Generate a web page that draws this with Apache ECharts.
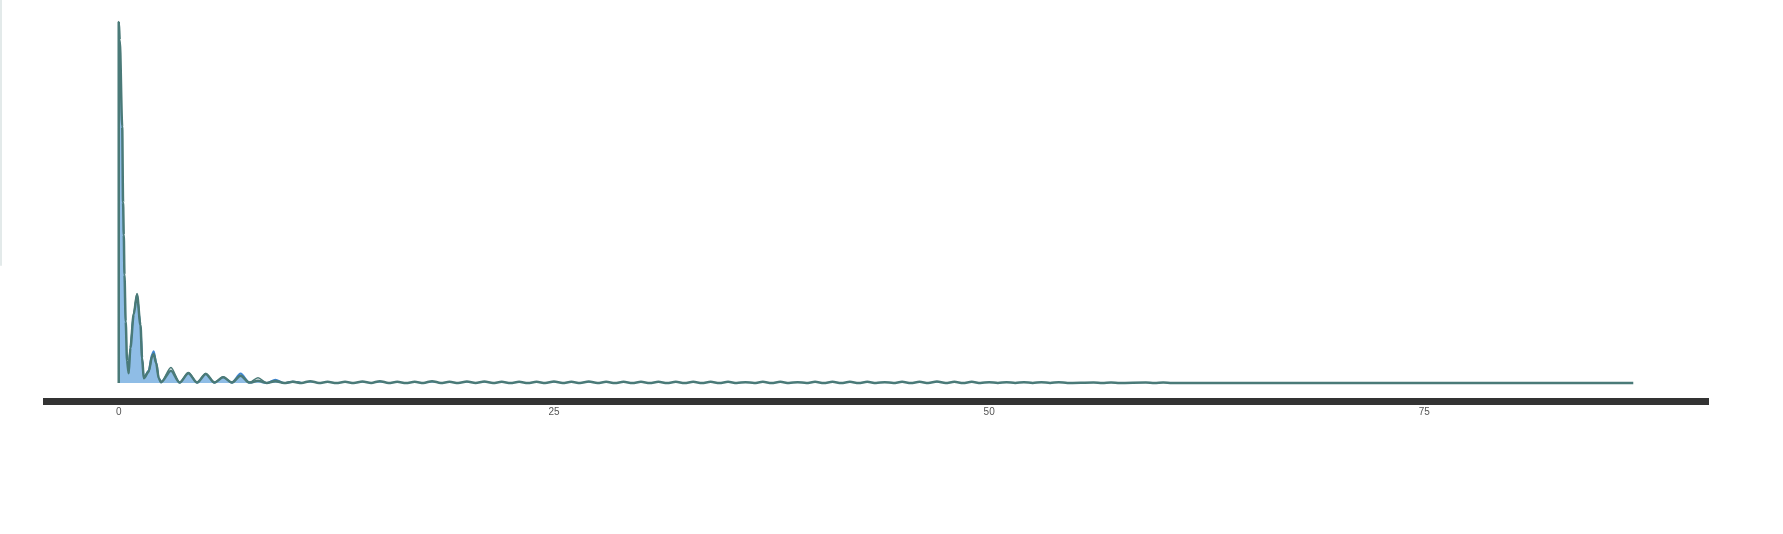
<!DOCTYPE html>
<html>
<head>
<meta charset="utf-8">
<script src="https://cdn.jsdelivr.net/npm/echarts@6/dist/echarts.min.js"></script>
<style>
html,body{margin:0;padding:0;background:#fff;}
#chart{width:1783px;height:534px;}
</style>
</head>
<body>
<div id="chart"></div>
<script>
// x tick labels
var tickValues = [0, 25, 50, 75];

// Series A (filled): x positions and values
var xA = [0, 0, 0.06, 0.2, 0.25, 0.29, 0.33, 0.4, 0.48, 0.57, 0.67, 0.86, 1.05, 1.25, 1.34, 1.44,
  1.72, 1.92, 2.01, 2.15, 2.3, 2.43, 3, 3.5, 4, 4.5, 5, 5.5, 6, 6.5, 7, 7.5, 8, 8.5, 9, 9.5, 10, 10.5,
  11, 11.5, 12, 12.5, 13, 13.5, 14, 14.5, 15, 15.5, 16, 16.5, 17, 17.5, 18, 18.5, 19, 19.5, 20, 20.5,
  21, 21.5, 22, 22.5, 23, 23.5, 24, 24.5, 25, 25.5, 26, 26.5, 27, 27.5, 28, 28.5, 29, 29.5, 30, 30.5,
  31, 31.5, 32, 32.5, 33, 33.5, 34, 34.5, 35, 35.5, 36, 36.5, 37, 37.5, 38, 38.5, 39, 39.5, 40, 40.5,
  41, 41.5, 42, 42.5, 43, 43.5, 44, 44.5, 45, 45.5, 46, 46.5, 47, 47.5, 48, 48.5, 49, 49.5, 50, 50.5,
  51, 51.5, 52, 52.5, 53, 53.5, 54, 54.5, 56, 56.5, 57, 57.5, 59, 59.5, 60, 60.5, 87];
var yA = [0, 1, 0.95, 0.71, 0.5, 0.41, 0.3, 0.17, 0.06, 0.027, 0.097, 0.19, 0.245, 0.16, 0.07, 0.013,
  0.032, 0.074, 0.08, 0.055, 0.013, 0.002, 0.034, 0.001, 0.027, 0.001, 0.025, 0.001, 0.016, 0.001, 0.02, 0.001, 0.006, 0, 0.005, 0, 0.003, 0,
  0.005, 0, 0.003, 0, 0.003, 0, 0.004, 0, 0.005, 0, 0.003, 0, 0.003, 0, 0.005, 0, 0.003, 0, 0.004, 0,
  0.004, 0, 0.003, 0, 0.003, 0, 0.003, 0, 0.004, 0, 0.003, 0, 0.004, 0, 0.003, 0, 0.003, 0, 0.003, 0,
  0.003, 0, 0.003, 0, 0.003, 0, 0.003, 0, 0.003, 0, 0.002, 0, 0.003, 0, 0.003, 0, 0.002, 0, 0.003, 0,
  0.003, 0, 0.003, 0, 0.003, 0, 0.002, 0, 0.003, 0, 0.003, 0, 0.004, 0, 0.003, 0, 0.003, 0, 0.002, 0,
  0.002, 0, 0.002, 0, 0.002, 0, 0.002, 0, 0.0015, 0, 0.0015, 0, 0.001, 0, 0.001, 0, 0];

// Series B (outline only), first ten units
var xB = [0.57, 0.67, 0.86, 1.05, 1.25, 1.34, 1.44, 1.72, 1.92, 2.01, 2.15, 2.3, 2.43, 3, 3.5, 4, 4.5,
  5, 5.5, 6, 6.5, 7, 7.5, 8, 8.5, 9, 9.5, 10, 10.5];
var yB = [0.027, 0.1, 0.195, 0.248, 0.162, 0.07, 0.013, 0.03, 0.072, 0.079, 0.054, 0.012, 0.002, 0.043, 0.001, 0.029, 0.001,
  0.026, 0.001, 0.017, 0.001, 0.021, 0.001, 0.0145, 0, 0.007, 0, 0.004, 0];

// Series C (blue outline), first ten units
var xC = [0.57, 0.67, 0.86, 1.05, 1.25, 1.34, 1.44, 1.72, 1.92, 2.01, 2.15, 2.3, 2.43, 3, 3.5, 4, 4.5,
  5, 5.5, 6, 6.5, 7, 7.5, 8, 8.5, 9, 9.5, 10, 10.5];
var yC = [0.027, 0.095, 0.185, 0.24, 0.155, 0.068, 0.013, 0.034, 0.08, 0.088, 0.058, 0.013, 0.002, 0.03, 0.001, 0.025, 0.001,
  0.022, 0.001, 0.014, 0.001, 0.026, 0.001, 0.004, 0, 0.009, 0, 0.003, 0];

function zip(xs, ys) { return xs.map(function (x, i) { return [x, ys[i]]; }); }

var teal = '#4a7a78';
var chart = echarts.init(document.getElementById('chart'), null, { renderer: 'canvas' });
chart.setOption({
  backgroundColor: '#ffffff',
  animation: false,
  grid: [
    { left: 43, right: 74, top: 4, bottom: 133 },
    { left: 1, top: 0, width: 10, height: 265 }
  ],
  xAxis: [
    {
      type: 'value', gridIndex: 0, min: -4.35, max: 91.35,
      splitLine: { show: false },
      axisTick: { show: false },
      axisLine: { show: true, onZero: false, lineStyle: { color: '#333333', width: 7, cap: 'butt' } },
      axisLabel: {
        show: true, customValues: tickValues, margin: 6,
        color: '#555555', fontSize: 10, fontFamily: 'Liberation Sans, Arial, sans-serif'
      }
    },
    { type: 'value', gridIndex: 1, show: false }
  ],
  yAxis: [
    { type: 'value', gridIndex: 0, min: -0.05, max: 1.05, show: false },
    {
      type: 'value', gridIndex: 1, show: true,
      axisLine: { show: true, lineStyle: { color: '#e3eaea', width: 2 } },
      axisLabel: { show: false }, axisTick: { show: false }, splitLine: { show: false }
    }
  ],
  series: [
    {
      type: 'line', xAxisIndex: 0, yAxisIndex: 0, data: zip(xC, yC), smooth: 0.3, smoothMonotone: 'x',
      showSymbol: false, lineStyle: { color: '#3f86d2', width: 2 }, z: 1
    },
    {
      type: 'line', xAxisIndex: 0, yAxisIndex: 0, data: zip(xA, yA), smooth: 0.3, smoothMonotone: 'x',
      showSymbol: false, lineStyle: { color: teal, width: 2.5 },
      areaStyle: { color: '#8fbde6', opacity: 1, origin: 0 }, z: 2
    },
    {
      type: 'line', xAxisIndex: 0, yAxisIndex: 0, data: zip(xB, yB), smooth: 0.3, smoothMonotone: 'x',
      showSymbol: false, lineStyle: { color: teal, width: 1.5 }, z: 3
    }
  ]
});
</script>
</body>
</html>
